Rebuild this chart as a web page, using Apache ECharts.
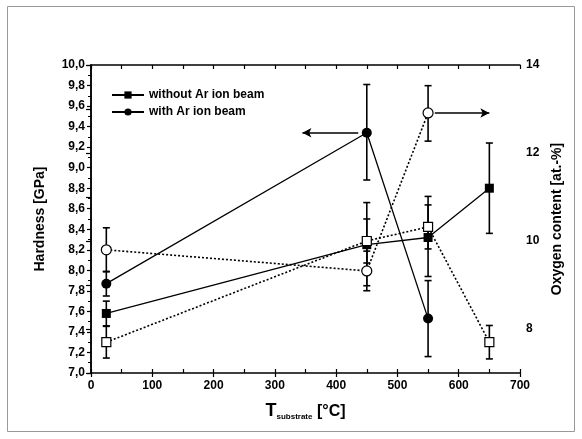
<!DOCTYPE html>
<html>
<head>
<meta charset="utf-8">
<script src="https://cdn.jsdelivr.net/npm/echarts@6/dist/echarts.min.js"></script>
<style>
  html, body { margin: 0; padding: 0; background: #fff; }
  #chart { width: 582px; height: 439px; }
</style>
</head>
<body>
<div id="chart"></div>
<script>
// temperatures [°C]
var temps = [25, 450, 550, 650];

// hardness [GPa] (left axis)
var hardWithout = [7.58, 8.25, 8.32, 8.80];
var hardWithoutErr = [[7.46, 7.70], [7.85, 8.66], [7.94, 8.72], [8.36, 9.24]];
var hardWith = [7.87, 9.34, 7.53];
var hardWithErr = [[7.75, 7.99], [8.88, 9.81], [7.16, 7.90]];

// oxygen content [at.-%] (right axis)
var oxyWithout = [7.70, 10.0, 10.32, 7.70];
var oxyWithoutErr = [[7.34, 8.06], [9.50, 10.50], [9.82, 10.82], [7.32, 8.08]];
var oxyWith = [9.80, 9.32, 12.91];
var oxyWithErr = [[9.30, 10.30], [8.87, 9.77], [12.27, 13.53]];

var hardTicks = { min: 7, max: 10, interval: 0.2 };
var oxyTicks = { min: 7, max: 14, interval: 1 };

var font = 'Liberation Sans, Arial, sans-serif';

function pts(xs, ys) {
    return ys.map(function (v, i) { return [xs[i], v]; });
}
function errs(xs, e) {
    return e.map(function (b, i) { return [xs[i], b[0], b[1]]; });
}

function errorSeries(data, yIdx) {
    return {
        type: 'custom',
        yAxisIndex: yIdx,
        z: 1,
        silent: true,
        data: data,
        renderItem: function (params, api) {
            var lo = api.coord([api.value(0), api.value(1)]);
            var hi = api.coord([api.value(0), api.value(2)]);
            var w = 3.5;
            var st = { stroke: '#000', lineWidth: 1.6 };
            return {
                type: 'group',
                children: [
                    { type: 'line', shape: { x1: lo[0], y1: lo[1], x2: hi[0], y2: hi[1] }, style: st },
                    { type: 'line', shape: { x1: lo[0] - w, y1: lo[1], x2: lo[0] + w, y2: lo[1] }, style: st },
                    { type: 'line', shape: { x1: hi[0] - w, y1: hi[1], x2: hi[0] + w, y2: hi[1] }, style: st }
                ]
            };
        }
    };
}

var chart = echarts.init(document.getElementById('chart'), null, { renderer: 'canvas' });

var option = {
    backgroundColor: '#fff',
    animation: false,
    textStyle: { fontFamily: font },
    graphic: [{
        type: 'rect',
        shape: { x: 7.5, y: 6.5, width: 567, height: 425 },
        style: { fill: 'none', stroke: '#999', lineWidth: 1 },
        silent: true
    }],
    grid: { left: 91, right: 62, top: 65, bottom: 66 },
    legend: {
        data: ['without Ar ion beam', 'with Ar ion beam'],
        orient: 'vertical',
        left: 106,
        top: 84,
        itemWidth: 32,
        itemHeight: 9,
        itemGap: 5,
        textStyle: { fontFamily: font, fontWeight: 'bold', fontSize: 12, color: '#000' }
    },
    xAxis: [{
        type: 'value',
        min: 0, max: 700, interval: 100,
        position: 'bottom',
        axisLine: { lineStyle: { color: '#000', width: 1.5 } },
        axisTick: { inside: false, length: 4, lineStyle: { color: '#000', width: 1.2 } },
        axisLabel: { color: '#000', fontWeight: 'bold', fontSize: 12, margin: 7 },
        splitLine: { show: false },
        name: '{T|T}{sub|substrate}{u| [°C]}',
        nameLocation: 'middle',
        nameGap: 29,
        nameTextStyle: {
            color: '#000',
            rich: {
                T: { fontSize: 18, fontWeight: 'bold', color: '#000', fontFamily: font },
                sub: { fontSize: 8, fontWeight: 'bold', color: '#000', fontFamily: font, padding: [11, 0, 0, 0] },
                u: { fontSize: 16, fontWeight: 'bold', color: '#000', fontFamily: font }
            }
        }
    }, {
        type: 'value',
        min: 0, max: 700, interval: 50,
        position: 'bottom',
        axisLine: { show: false },
        axisTick: { inside: true, length: 4, lineStyle: { color: '#000', width: 1.2 } },
        axisLabel: { show: false },
        splitLine: { show: false }
    }, {
        type: 'value',
        min: 0, max: 700, interval: 50,
        position: 'top',
        axisLine: { lineStyle: { color: '#000', width: 1.5 } },
        axisTick: { inside: true, length: 4, lineStyle: { color: '#000', width: 1.2 } },
        axisLabel: { show: false },
        splitLine: { show: false }
    }],
    yAxis: [{
        type: 'value',
        min: hardTicks.min, max: hardTicks.max, interval: hardTicks.interval,
        position: 'left',
        axisLine: { show: true, lineStyle: { color: '#000', width: 1.5 } },
        axisTick: { inside: false, length: 4, lineStyle: { color: '#000', width: 1.2 } },
        minorTick: { show: true, splitNumber: 2, length: 3, lineStyle: { color: '#000', width: 1 } },
        axisLabel: {
            color: '#000', fontWeight: 'bold', fontSize: 12, margin: 6,
            formatter: function (v) { return v.toFixed(1).replace('.', ','); }
        },
        splitLine: { show: false },
        name: 'Hardness [GPa]',
        nameLocation: 'middle',
        nameRotate: 90,
        nameGap: 44,
        nameTextStyle: { color: '#000', fontWeight: 'bold', fontSize: 14, fontFamily: font }
    }, {
        type: 'value',
        min: oxyTicks.min, max: oxyTicks.max, interval: oxyTicks.interval,
        position: 'right',
        axisLine: { show: true, lineStyle: { color: '#000', width: 1.5 } },
        axisTick: { inside: true, length: 5, lineStyle: { color: '#000', width: 1.2 } },
        axisLabel: {
            color: '#000', fontWeight: 'bold', fontSize: 12, margin: 6,
            formatter: function (v) { return v % 2 === 0 ? String(v) : ''; }
        },
        splitLine: { show: false },
        name: 'Oxygen content [at.-%]',
        nameLocation: 'middle',
        nameRotate: 90,
        nameGap: 25,
        nameTextStyle: { color: '#000', fontWeight: 'bold', fontSize: 14, fontFamily: font }
    }],
    series: [
        errorSeries(errs(temps, hardWithoutErr), 0),
        errorSeries(errs(temps, hardWithErr), 0),
        errorSeries(errs(temps, oxyWithoutErr), 1),
        errorSeries(errs(temps, oxyWithErr), 1),
        {
            name: 'without Ar ion beam',
            type: 'line',
            yAxisIndex: 0,
            z: 3,
            data: pts(temps, hardWithout),
            symbol: 'rect',
            symbolSize: 9,
            itemStyle: { color: '#000' },
            lineStyle: { color: '#000', width: 1.3 }
        },
        {
            name: 'with Ar ion beam',
            type: 'line',
            yAxisIndex: 0,
            z: 3,
            data: pts(temps, hardWith),
            symbol: 'circle',
            symbolSize: 10,
            itemStyle: { color: '#000' },
            lineStyle: { color: '#000', width: 1.3 },
            markLine: {
                silent: true,
                symbol: ['none', 'arrow'],
                symbolSize: [7, 9],
                label: { show: false },
                lineStyle: { color: '#000', width: 1.5, type: 'solid' },
                data: [[{ coord: [436, 9.34] }, { coord: [345, 9.34] }]]
            }
        },
        {
            name: 'oxy without',
            type: 'line',
            yAxisIndex: 1,
            z: 3,
            data: pts(temps, oxyWithout),
            symbol: 'rect',
            symbolSize: 9,
            itemStyle: { color: '#fff', borderColor: '#000', borderWidth: 1.2 },
            lineStyle: { color: '#000', width: 1.6, type: [2, 2] }
        },
        {
            name: 'oxy with',
            type: 'line',
            yAxisIndex: 1,
            z: 3,
            data: pts(temps, oxyWith),
            symbol: 'circle',
            symbolSize: 10,
            itemStyle: { color: '#fff', borderColor: '#000', borderWidth: 1.2 },
            lineStyle: { color: '#000', width: 1.6, type: [2, 2] },
            markLine: {
                silent: true,
                symbol: ['none', 'arrow'],
                symbolSize: [7, 9],
                label: { show: false },
                lineStyle: { color: '#000', width: 1.5, type: 'solid' },
                data: [[{ coord: [561, 12.91] }, { coord: [650, 12.91] }]]
            }
        }
    ]
};

chart.setOption(option);
</script>
</body>
</html>
